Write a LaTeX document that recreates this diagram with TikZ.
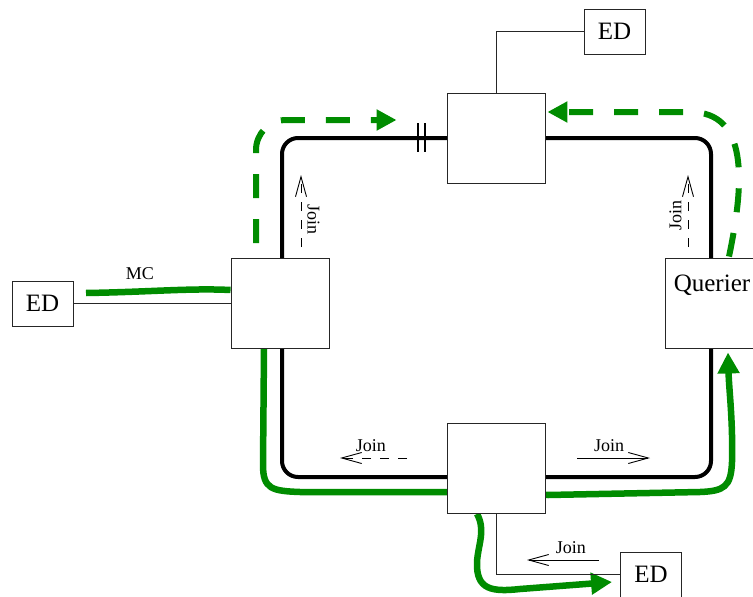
\documentclass[tikz,border=0pt]{standalone}
\usepackage{fontspec}
\setmainfont{Liberation Serif}
\usepackage{xcolor}
\usepackage{tikz}
\usetikzlibrary{arrows.meta,backgrounds}
\definecolor{mcgreen}{RGB}{0,140,0}

\begin{document}
\begin{tikzpicture}[
    x=1pt, y=-1pt,
    ed/.style={
        draw=black!85,
        line width=0.9pt,
        fill=white,
        minimum width=61pt,
        minimum height=45pt,
        inner sep=0pt,
        font=\fontsize{25}{29}\selectfont
    },
    switch/.style={
        draw=black!85,
        line width=0.9pt,
        fill=white,
        minimum width=98pt,
        minimum height=90pt,
        inner sep=0pt
    },
    ring/.style={line width=4pt, rounded corners=16pt},
    wire/.style={draw=black!85, line width=0.9pt},
    tick/.style={line width=1.1pt},
    flow/.style={draw=mcgreen, line width=6.5pt, -{Triangle[length=21pt,width=21pt]}},
    mcflow/.style={draw=mcgreen, line width=6.5pt},
    query/.style={draw=mcgreen, line width=6pt, dash pattern=on 24pt off 21pt,
        -{Triangle[length=20pt,width=20pt]}},
    joinarr/.style={line width=0.9pt, -{Straight Barb[length=20pt,width=11pt]}},
    joindash/.style={dash pattern=on 9pt off 9pt},
    joinlbl/.style={anchor=south, inner sep=6pt, font=\fontsize{18}{21}\selectfont},
    txt/.style={inner sep=0pt, font=\fontsize{18}{21}\selectfont}
]
\useasboundingbox (0,0) rectangle (753,597);

% end devices and switches
\node[ed] (edL) at (42.5,303.5) {ED};
\node[switch] (swL) at (280,303.5) {};
\node[switch] (swT) at (496,138) {};
\node[ed] (edT) at (614.5,31.5) {ED};
\node[switch] (swB) at (496.5,468.5) {};
\node[ed] (edB) at (651,574.5) {ED};
\node[switch, label={[name=qrlbl, anchor=north, inner sep=0pt, xshift=-2pt, yshift=-17pt,
    font=\fontsize{25}{29}\selectfont]north:Querier}] (qr) at (714,303) {};

\node[txt] (mclbl) at (140,274) {MC};
\coordinate (mcsrc) at (86,293);

\begin{scope}[on background layer]
% ring
\draw[ring] (282,138) rectangle (711,477);
\foreach \tx in {418,425}
    \draw[tick] (\tx,123) -- ++(0,29);

% multicast data
\draw[mcflow] (mcsrc) .. controls (150,292) and (190,288) .. ([yshift=13.5pt]swL.west);
\draw[flow] ([xshift=-16pt]swL.south) -- (263,465)
    .. controls (263,489) and (272,491) .. (300,492) -- (445,492) -- (548,495) -- (700,492)
    .. controls (724,491) and (731,487) .. (732,462)
    .. controls (733,420) and (729,390) .. ([xshift=14pt,yshift=-4pt]qr.south);
\draw[flow] ([xshift=-19.5pt]swB.south) .. controls (486,530) and (478,545) .. (477,562)
    .. controls (476,590) and (492,592) .. (520,589) -- ([xshift=-8pt,yshift=-7.5pt]edB.west);

% queries
\draw[query, rounded corners=30pt] ([xshift=-24pt,yshift=15pt]swL.north) -- (256,120)
    -- ([xshift=-50pt,yshift=18pt]swT.west);
\draw[query] ([xshift=15pt,yshift=1pt]qr.north) .. controls (745,180) and (748,112) .. (690,112)
    -- ([xshift=2pt,yshift=26pt]swT.east);

% links to end devices
\draw[wire] (edL) -- (swL);
\draw[wire] (swT.north) |- (edT.west);
\draw[wire] (swB.south) |- (edB.west);
\end{scope}

% join messages
\draw[joinarr, joindash] (301,247) -- (301,175) node[joinlbl, pos=0.38, rotate=-90] (joinL) {Join};
\draw[joinarr, joindash] (688,247) -- (688,175) node[joinlbl, pos=0.44, rotate=90] (joinR) {Join};
\draw[joinarr, joindash] (407,458) -- (340,458) node[joinlbl, pos=0.54] (joinBL) {Join};
\draw[joinarr] (577,458) -- (650,458) node[joinlbl, pos=0.44] (joinBR) {Join};
\draw[joinarr] (599,560) -- (527,560) node[joinlbl, pos=0.39] (joinED) {Join};

\end{tikzpicture}
\end{document}
